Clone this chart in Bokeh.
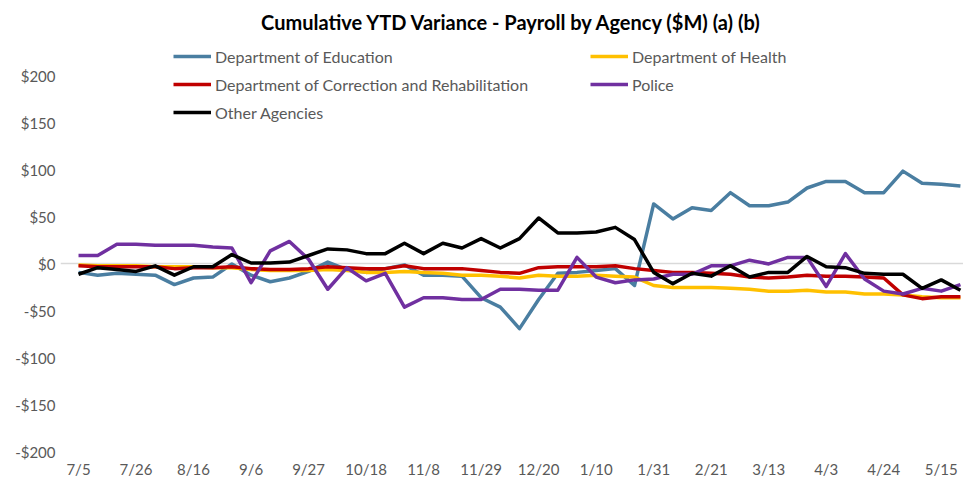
from bokeh.plotting import figure
from bokeh.models import FixedTicker, Legend, LegendItem, ColumnDataSource
from bokeh.embed import file_html
from bokeh.resources import INLINE

weeks = ["7/5", "7/12", "7/19", "7/26", "8/2", "8/9", "8/16", "8/23", "8/30", "9/6",
         "9/13", "9/20", "9/27", "10/4", "10/11", "10/18", "10/25", "11/1", "11/8", "11/15",
         "11/22", "11/29", "12/6", "12/13", "12/20", "12/27", "1/3", "1/10", "1/17", "1/24",
         "1/31", "2/7", "2/14", "2/21", "2/28", "3/6", "3/13", "3/20", "3/27", "4/3",
         "4/10", "4/17", "4/24", "5/1", "5/8", "5/15", "5/22"]

education = [-9, -12, -10, -11, -12, -22, -15, -14, 0, -12,
             -19, -15, -8, 2, -6, -9, -5, -1, -12, -12,
             -13, -36, -46, -69, -38, -10, -9, -7, -5, -23,
             64, 48, 60, 57, 76, 62, 62, 66, 81, 88,
             88, 76, 76, 99, 86, 85, 83]
health = [-1, -2, -2, -2, -3, -3, -3, -4, -4, -6,
          -7, -7, -7, -6, -7, -9, -9, -8, -9, -10,
          -12, -12, -13, -15, -12, -13, -13, -12, -13, -14,
          -23, -25, -25, -25, -26, -27, -29, -29, -28, -30,
          -30, -32, -32, -33, -35, -36, -36]
correction = [-2, -3, -3, -3, -3, -5, -4, -4, -3, -5,
              -6, -6, -5, -3, -4, -5, -5, -2, -5, -5,
              -5, -7, -9, -10, -4, -3, -3, -3, -2, -5,
              -7, -9, -9, -10, -11, -14, -15, -14, -12, -13,
              -13, -14, -15, -33, -37, -35, -35]
police = [9, 9, 21, 21, 20, 20, 20, 18, 17, -20,
          14, 24, 5, -27, -4, -18, -10, -46, -36, -36,
          -38, -38, -27, -27, -28, -28, 7, -14, -20, -17,
          -16, -11, -11, -2, -2, 4, 0, 7, 7, -24,
          11, -16, -29, -32, -26, -29, -22]
other = [-11, -4, -6, -8, -2, -12, -3, -3, 10, 1,
         1, 2, 9, 16, 15, 11, 11, 22, 11, 22,
         17, 27, 17, 27, 49, 33, 33, 34, 39, 26,
         -9, -21, -10, -13, -2, -14, -9, -9, 8, -3,
         -4, -10, -11, -11, -26, -17, -28]

series_names = ["Department of Education", "Department of Health",
                "Department of Correction and Rehabilitation", "Police", "Other Agencies"]
series_values = [education, health, correction, police, other]
series_colors = ["#4A7EA1", "#FFC000", "#C00000", "#7030A0", "#000000"]

y_ticks = [-200, -150, -100, -50, 0, 50, 100, 150, 200]
y_tick_labels = ["-$200", "-$150", "-$100", "-$50", "$0", "$50", "$100", "$150", "$200"]

FONT = "Lato"
GREY = "#595959"

x = list(range(len(weeks)))

p = figure(width=963, height=486, output_backend="svg", toolbar_location=None,
           x_range=(-0.94, len(weeks) - 1 + 0.16), y_range=(-200, 237.2),
           min_border_left=60, min_border_right=0, min_border_top=40, min_border_bottom=35)
p.outline_line_color = None
p.background_fill_color = "white"

p.title.text = "Cumulative YTD Variance - Payroll by Agency ($M) (a) (b)"
p.title.align = "center"
p.title.text_font = FONT
p.title.text_font_size = "20px"
p.title.text_font_style = "bold"
p.title.text_color = "#000000"
p.title.standoff = 15

renderers = []
for name, vals, col in zip(series_names, series_values, series_colors):
    src = ColumnDataSource(dict(x=x, y=vals))
    r = p.line("x", "y", source=src, line_color=col, line_width=3.5, line_join="round")
    renderers.append(r)

p.xgrid.visible = False
p.ygrid.ticker = FixedTicker(ticks=[0])
p.ygrid.grid_line_color = "#D9D9D9"
p.ygrid.grid_line_width = 1.5

p.yaxis.ticker = FixedTicker(ticks=y_ticks)
p.yaxis.major_label_overrides = {t: l for t, l in zip(y_ticks, y_tick_labels)}
p.xaxis.ticker = FixedTicker(ticks=x[::3])
p.xaxis.major_label_overrides = {i: weeks[i] for i in x[::3]}
for ax in (p.xaxis, p.yaxis):
    ax.axis_line_color = None
    ax.major_tick_line_color = None
    ax.minor_tick_line_color = None
    ax.major_tick_out = 0
    ax.major_tick_in = 0
    ax.minor_tick_out = 0
    ax.major_label_text_font = FONT
    ax.major_label_text_font_size = "15px"
    ax.major_label_text_color = GREY
p.yaxis.major_label_standoff = 5
p.xaxis.major_label_standoff = 8

def make_legend(idx, loc):
    lg = Legend(items=[LegendItem(label=series_names[i], renderers=[renderers[i]]) for i in idx],
                location=loc, orientation="vertical",
                label_text_font=FONT, label_text_font_size="16px", label_text_color=GREY,
                glyph_width=38, glyph_height=20, label_height=20, label_standoff=4,
                spacing=8, padding=0, margin=0, border_line_color=None,
                background_fill_alpha=0)
    p.add_layout(lg, "center")

make_legend([0, 2, 4], (113, 329))
make_legend([1, 3], (530, 357))

open("out.html", "w").write(file_html(p, INLINE))
